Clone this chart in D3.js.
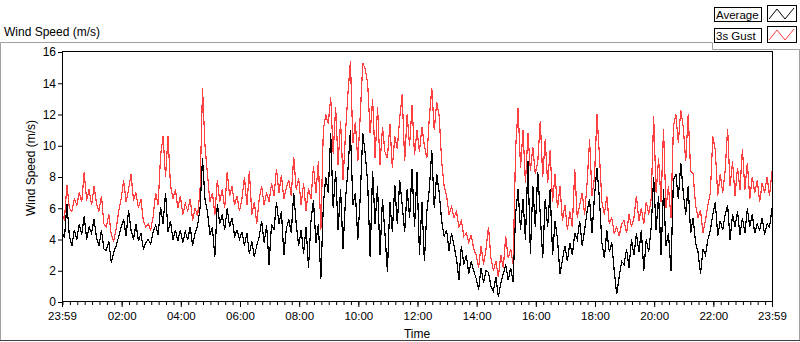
<!DOCTYPE html>
<html>
<head>
<meta charset="utf-8">
<script src="https://cdn.jsdelivr.net/npm/d3@7"></script>
<style>
body { margin: 0; background: #fff; }
text { font-family: "Liberation Sans", Arial, sans-serif; fill: #000; }
</style>
</head>
<body>
<script>
// 5-minute samples, 23:59 -> 23:59 next day
let startTime = new Date(2024, 0, 1, 23, 59);
let endTime = new Date(2024, 0, 2, 23, 59);
let stepMinutes = 5;

let gust = [
	5.6, 5.3, 7.5, 6.0, 5.8, 6.6, 6.2, 7.0, 6.4, 8.3, 6.5, 7.2,
	6.2, 7.4, 6.3, 5.8, 6.8, 5.0, 4.8, 5.6, 4.3, 3.9, 4.7, 5.8,
	6.6, 7.8, 6.4, 7.2, 8.2, 6.5, 7.0, 6.0, 6.6, 5.2, 4.8, 5.0,
	4.6, 5.5, 7.0, 6.2, 9.4, 10.6, 8.0, 10.6, 7.5, 6.6, 7.2, 6.0,
	6.8, 5.6, 6.3, 5.8, 6.6, 5.2, 6.0, 5.5, 7.2, 13.7, 10.0, 8.2,
	6.4, 7.0, 5.6, 7.8, 6.4, 7.2, 6.0, 8.3, 6.8, 7.4, 6.2, 6.8,
	5.8, 6.6, 8.0, 6.2, 8.4, 5.6, 6.4, 5.0, 6.6, 7.4, 6.2, 7.0,
	6.4, 7.6, 6.8, 8.5, 7.0, 8.1, 6.6, 7.3, 7.8, 6.8, 9.3, 7.2,
	7.9, 6.2, 7.6, 5.8, 7.3, 6.6, 8.7, 7.0, 9.0, 4.6, 11.0, 12.0,
	11.4, 13.1, 9.5, 12.5, 8.8, 11.6, 7.8, 10.8, 13.4, 15.4, 10.2, 11.5,
	9.0, 12.0, 15.3, 14.9, 14.0, 10.8, 13.0, 9.2, 12.5, 8.8, 11.2, 9.6,
	9.2, 11.4, 8.6, 10.6, 9.8, 11.8, 13.3, 9.0, 12.0, 10.0, 12.6, 9.4,
	11.0, 9.6, 11.2, 10.0, 9.2, 11.8, 13.7, 11.0, 12.8, 11.9, 9.0, 7.4,
	6.8, 5.6, 6.1, 5.4, 5.8, 4.8, 5.2, 4.2, 4.4, 3.8, 4.3, 3.4,
	3.0, 2.2, 3.6, 2.4, 3.4, 4.8, 2.8, 2.0, 2.6, 1.6, 3.0, 2.2,
	4.2, 2.8, 3.4, 2.4, 9.8, 12.4, 8.6, 11.0, 7.6, 10.8, 8.4, 9.9,
	8.2, 9.0, 11.6, 8.0, 10.4, 7.6, 9.7, 6.4, 8.2, 6.0, 7.4, 5.2,
	6.2, 4.6, 5.8, 4.8, 8.5, 5.4, 6.2, 7.0, 5.6, 7.6, 10.4, 6.8,
	8.0, 12.0, 9.4, 6.4, 5.6, 6.8, 5.0, 5.4, 4.4, 4.8, 4.2, 5.0,
	5.2, 4.4, 5.6, 4.8, 5.4, 6.8, 5.2, 6.0, 5.0, 6.4, 5.6, 6.6,
	11.9, 7.0, 9.2, 6.4, 11.1, 6.0, 7.4, 5.4, 11.2, 12.0, 10.2, 12.3,
	11.2, 9.0, 12.0, 8.4, 8.2, 6.2, 5.4, 5.9, 4.4, 5.2, 6.2, 7.0,
	10.6, 9.7, 6.8, 8.2, 7.0, 8.4, 11.1, 7.4, 9.0, 6.8, 8.6, 7.2,
	9.8, 7.2, 8.9, 6.6, 8.0, 7.0, 7.8, 6.4, 7.6, 7.0, 8.0, 6.8,
	8.4
];

let average = [
	4.5, 4.1, 6.3, 4.2, 3.6, 4.6, 4.0, 5.0, 4.3, 5.5, 4.0, 4.8,
	4.4, 5.3, 4.1, 3.6, 4.6, 3.4, 3.3, 3.9, 2.5, 3.2, 3.6, 4.2,
	4.8, 5.3, 4.2, 5.9, 4.6, 4.0, 5.0, 3.9, 4.4, 3.4, 3.8, 4.0,
	3.7, 4.5, 4.9, 4.3, 6.1, 5.0, 7.0, 4.5, 5.2, 4.0, 4.6, 3.9,
	4.6, 3.8, 4.5, 4.0, 4.8, 3.6, 4.4, 4.9, 6.0, 9.2, 6.6, 5.8,
	4.3, 4.8, 2.9, 6.3, 5.0, 5.6, 4.6, 6.0, 4.8, 5.4, 4.2, 4.6,
	4.0, 4.5, 3.6, 4.4, 3.1, 3.9, 2.9, 3.6, 4.2, 5.2, 3.8, 4.9,
	2.4, 5.0, 4.6, 6.4, 5.0, 5.8, 3.0, 4.7, 5.3, 4.4, 7.0, 5.0,
	3.6, 4.6, 3.1, 4.8, 2.2, 5.2, 6.5, 3.8, 5.0, 1.5, 6.2, 8.0,
	7.0, 10.8, 6.0, 8.4, 4.6, 7.2, 3.4, 6.6, 8.5, 11.0, 6.2, 7.0,
	4.0, 6.8, 10.8, 9.5, 7.6, 2.9, 8.4, 5.0, 7.4, 3.0, 6.6, 4.4,
	1.9, 6.4, 4.5, 7.5, 5.0, 7.8, 6.2, 4.5, 7.2, 5.4, 8.5, 4.8,
	8.3, 3.0, 6.4, 2.6, 5.8, 7.2, 9.7, 6.0, 8.2, 7.0, 5.2, 4.2,
	4.6, 3.3, 4.4, 3.6, 2.8, 1.4, 3.6, 2.4, 3.0, 1.8, 2.6, 2.0,
	1.5, 0.8, 2.2, 1.2, 2.0, 1.9, 1.0, 0.7, 1.6, 0.3, 1.2, 1.8,
	2.4, 1.4, 2.2, 1.3, 5.6, 7.2, 4.6, 6.6, 4.0, 9.0, 3.1, 7.4,
	4.8, 8.3, 5.6, 2.8, 6.6, 4.8, 7.2, 3.0, 5.2, 4.0, 1.8, 2.7,
	3.6, 2.6, 3.8, 3.0, 4.4, 4.0, 5.2, 3.6, 4.6, 5.8, 6.6, 4.4,
	6.8, 8.6, 6.6, 3.8, 2.8, 4.6, 3.2, 3.8, 2.0, 0.5, 1.6, 2.6,
	2.4, 3.4, 2.2, 4.0, 3.0, 4.4, 3.2, 4.6, 2.0, 4.0, 3.2, 4.8,
	8.0, 4.6, 6.8, 3.0, 7.2, 3.6, 4.4, 2.0, 7.8, 8.2, 6.6, 8.9,
	7.0, 5.6, 7.4, 4.4, 5.4, 3.8, 3.2, 1.8, 3.4, 3.0, 4.0, 4.6,
	5.6, 6.4, 4.2, 5.2, 4.6, 5.6, 6.2, 4.0, 5.6, 4.8, 5.8, 4.3,
	5.4, 4.4, 6.0, 4.8, 5.6, 4.4, 5.0, 4.6, 5.4, 4.3, 5.0, 4.8,
	6.0
];

let yTicks = [0, 2, 4, 6, 8, 10, 12, 14, 16];
let xTickHours = [2, 4, 6, 8, 10, 12, 14, 16, 18, 20, 22];
let seriesNames = ["Average", "3s Gust"];
let seriesColors = ["#000000", "#ff4040"];

let width = 800;
let height = 342;
let margin = { top: 52, right: 28, bottom: 40, left: 62 };

let svg = d3.select("body").append("svg")
	.attr("width", width)
	.attr("height", height);

let x = d3.scaleTime()
	.domain([startTime, endTime])
	.range([margin.left, width - margin.right]);

let y = d3.scaleLinear()
	.domain([0, 16])
	.range([height - margin.bottom, margin.top]);

// outer panel frame
svg.append("path")
	.attr("d", `M0.5,341 V42.5 H712.5 V49.5 H799.5 V341`)
	.attr("fill", "none")
	.attr("stroke", "#a0a0a0");
svg.append("line")
	.attr("x1", 0).attr("x2", 800)
	.attr("y1", 340.5).attr("y2", 340.5)
	.attr("stroke", "#404040");

svg.append("text")
	.text("Wind Speed (m/s)")
	.attr("x", 4)
	.attr("y", 36)
	.style("font-size", "12px");

// data lines
let toPoints = vals => vals.map((v, i) => ({ t: d3.timeMinute.offset(startTime, i * stepMinutes), v: v }));

let line = d3.line()
	.x(d => x(d.t))
	.y(d => y(d.v));

svg.append("clipPath").attr("id", "plotClip")
	.append("rect")
	.attr("x", margin.left).attr("y", margin.top)
	.attr("width", width - margin.left - margin.right)
	.attr("height", height - margin.top - margin.bottom);

let plot = svg.append("g").attr("clip-path", "url(#plotClip)");

plot.append("path")
	.datum(toPoints(gust))
	.attr("d", line)
	.attr("fill", "none")
	.attr("stroke", seriesColors[1])
	.attr("stroke-width", 1.2)
	.attr("shape-rendering", "crispEdges");

plot.append("path")
	.datum(toPoints(average))
	.attr("d", line)
	.attr("fill", "none")
	.attr("stroke", seriesColors[0])
	.attr("stroke-width", 1.2)
	.attr("shape-rendering", "crispEdges");

// plot frame
svg.append("rect")
	.attr("x", margin.left + 0.5)
	.attr("y", margin.top - 0.5)
	.attr("width", width - margin.left - margin.right)
	.attr("height", height - margin.top - margin.bottom)
	.attr("fill", "none")
	.attr("stroke", "#000");

// y axis
let yAxis = svg.append("g")
	.attr("transform", `translate(${margin.left},0)`)
	.call(d3.axisLeft(y).tickValues(yTicks).tickSize(4).tickPadding(2));
yAxis.select(".domain").remove();
yAxis.selectAll("text").style("font-size", "12px").attr("font-family", null);

svg.append("text")
	.text("Wind Speed (m/s)")
	.attr("transform", "translate(35,168) rotate(-90)")
	.attr("text-anchor", "middle")
	.style("font-size", "12px");

// x axis: minor ticks every 15 min, labels every 2 h
let minorTicks = d3.timeMinute.every(15).range(startTime, endTime).concat([startTime, endTime]);
let xMinor = svg.append("g")
	.attr("transform", `translate(0,${height - margin.bottom})`)
	.call(d3.axisBottom(x).tickValues(minorTicks).tickSize(3).tickFormat(""));
xMinor.select(".domain").remove();

let majorTicks = [startTime]
	.concat(xTickHours.map(h => new Date(2024, 0, 2, h, 0)))
	.concat([endTime]);
let xMajor = svg.append("g")
	.attr("transform", `translate(0,${height - margin.bottom})`)
	.call(d3.axisBottom(x).tickValues(majorTicks).tickSize(5).tickPadding(5).tickFormat(d3.timeFormat("%H:%M")));
xMajor.select(".domain").remove();
xMajor.selectAll("text").style("font-size", "11.5px").attr("font-family", null);

svg.append("text")
	.text("Time")
	.attr("x", (margin.left + width - margin.right) / 2)
	.attr("y", 338)
	.attr("text-anchor", "middle")
	.style("font-size", "12px");

// legend (top right)
svg.append("rect")
	.attr("x", 713).attr("y", 0).attr("width", 87).attr("height", 49)
	.attr("fill", "#fff");

let legend = svg.selectAll(".legend")
	.data(seriesNames)
	.enter()
	.append("g")
	.attr("class", "legend")
	.attr("transform", (d, i) => `translate(0,${i * 21})`);

legend.append("rect")
	.attr("x", 714.5).attr("y", 7.5)
	.attr("width", 47).attr("height", 14)
	.attr("fill", "#fff")
	.attr("stroke", "#000");

legend.append("text")
	.text(d => d)
	.attr("x", 716)
	.attr("y", 19)
	.style("font-size", "11.5px");

legend.append("rect")
	.attr("x", 767.5).attr("y", 5.5)
	.attr("width", 29).attr("height", 16)
	.attr("fill", "#fff")
	.attr("stroke", "#000");

legend.append("path")
	.attr("d", "M769,19 L777,9 L785,19 L794,8")
	.attr("fill", "none")
	.attr("stroke", (d, i) => seriesColors[i]);
</script>
</body>
</html>
